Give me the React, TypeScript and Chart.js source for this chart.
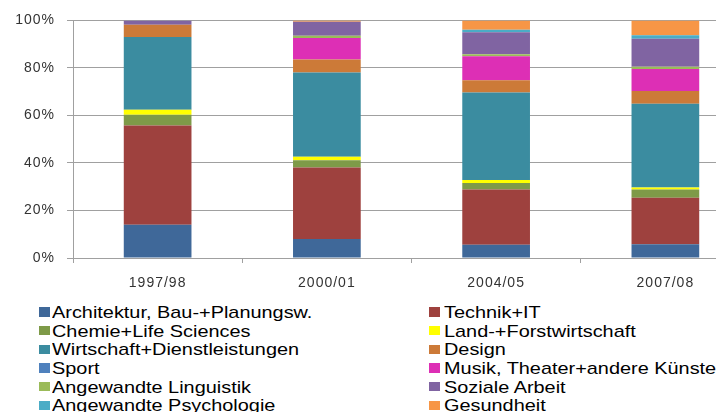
import React, { useEffect, useRef } from 'react';
import { Chart, registerables } from 'chart.js';

Chart.register(...registerables);

const categories = ['1997/98', '2000/01', '2004/05', '2007/08'];

const seriesNames = [
  'Architektur, Bau-+Planungsw.',
  'Technik+IT',
  'Chemie+Life Sciences',
  'Land-+Forstwirtschaft',
  'Wirtschaft+Dienstleistungen',
  'Design',
  'Sport',
  'Musik, Theater+andere Künste',
  'Angewandte Linguistik',
  'Soziale Arbeit',
  'Angewandte Psychologie',
  'Gesundheit',
];

const architektur = [14.0, 8.0, 5.6, 5.8];
const technik = [41.8, 30.1, 23.2, 19.6];
const chemie = [4.5, 3.0, 2.8, 3.4];
const land = [2.1, 1.5, 1.2, 0.9];
const wirtschaft = [30.6, 35.5, 36.9, 35.2];
const design = [5.2, 5.4, 5.1, 5.4];
const sport = [0, 0, 0, 0];
const musik = [0, 9.1, 10.1, 9.2];
const linguistik = [0, 0.9, 0.9, 1.0];
const soziale = [1.8, 5.9, 9.2, 11.8];
const psychologie = [0, 0, 1.1, 1.5];
const gesundheit = [0, 0.6, 3.9, 6.2];

const seriesValues = [
  architektur, technik, chemie, land, wirtschaft, design,
  sport, musik, linguistik, soziale, psychologie, gesundheit,
];

const seriesColors = [
  '#3F6899', '#9E413E', '#7E9A48', '#FFFF00', '#3B8CA0', '#CC7A38',
  '#4F81BD', '#DD2FB5', '#9BBB59', '#8064A2', '#4BACC6', '#F79646',
];

const yTickValues = [0, 20, 40, 60, 80, 100];

const FONT = '"Liberation Sans", Arial, sans-serif';

const spacingPlugin = {
  id: 'letterSpacing',
  beforeUpdate(chart: any) {
    chart.ctx.letterSpacing = '1px';
  },
  beforeDraw(chart: any) {
    chart.ctx.letterSpacing = '1px';
  },
};

export default function App() {
  const canvasRef = useRef<HTMLCanvasElement>(null);

  useEffect(() => {
    const canvas = canvasRef.current;
    if (!canvas) return;
    const chart = new Chart(canvas, {
      type: 'bar',
      data: {
        labels: categories,
        datasets: seriesNames.map((name, i) => ({
          label: name,
          data: seriesValues[i],
          backgroundColor: seriesColors[i],
          borderWidth: 0,
          barPercentage: 0.4,
          categoryPercentage: 1,
        })),
      },
      options: {
        responsive: false,
        animation: false,
        devicePixelRatio: 1,
        layout: { padding: { top: 20, right: 10, left: 0, bottom: 0 } },
        plugins: {
          legend: { display: false },
          tooltip: { enabled: false },
        },
        scales: {
          x: {
            stacked: true,
            grid: {
              display: true,
              drawOnChartArea: false,
              drawTicks: true,
              tickLength: 5,
              color: '#a0a0a0',
              offset: true,
            },
            border: { display: true, color: '#a0a0a0' },
            ticks: {
              font: { family: FONT, size: 14 },
              color: '#333333',
              padding: 12,
            },
            afterFit(s: any) {
              s.height = 42;
            },
          },
          y: {
            stacked: true,
            min: 0,
            max: 100,
            afterBuildTicks(s: any) {
              s.ticks = yTickValues.map((v) => ({ value: v }));
            },
            ticks: {
              callback: (v: any) => v + '%',
              font: { family: FONT, size: 14 },
              color: '#333333',
              padding: 12,
            },
            grid: { color: '#a0a0a0', tickLength: 6 },
            border: { display: true, color: '#a0a0a0' },
            afterFit(s: any) {
              s.width = 73;
            },
          },
        },
      },
      plugins: [spacingPlugin],
    });
    return () => chart.destroy();
  }, []);

  const rowBaseline0 = 318.3;
  const rowStep = 18.65;
  const half = Math.ceil(seriesNames.length / 2);

  return (
    <div
      style={{
        position: 'absolute',
        left: 0,
        top: 0,
        width: 716,
        height: 412,
        overflow: 'hidden',
        background: '#ffffff',
      }}
    >
      <canvas
        ref={canvasRef}
        width={760}
        height={300}
        style={{ position: 'absolute', left: 0, top: 0, display: 'block' }}
      />
      {seriesNames.map((name, i) => {
        const row = Math.floor(i / 2);
        const col = i % 2;
        const baseline = rowBaseline0 + row * rowStep;
        const sqLeft = col === 0 ? 38.5 : 429;
        const txtLeft = col === 0 ? 52.3 : 444.3;
        return (
          <React.Fragment key={name}>
            <div
              style={{
                position: 'absolute',
                left: sqLeft,
                top: baseline - 11,
                width: 11,
                height: 9.4,
                background: seriesColors[i],
              }}
            />
            <div
              style={{
                position: 'absolute',
                left: txtLeft,
                top: baseline - 14.4,
                fontFamily: FONT,
                fontSize: 17,
                lineHeight: '17px',
                color: '#000000',
                whiteSpace: 'nowrap',
                transform: 'scaleX(1.17)',
                transformOrigin: 'left center',
              }}
            >
              {name}
            </div>
          </React.Fragment>
        );
      })}
    </div>
  );
}
